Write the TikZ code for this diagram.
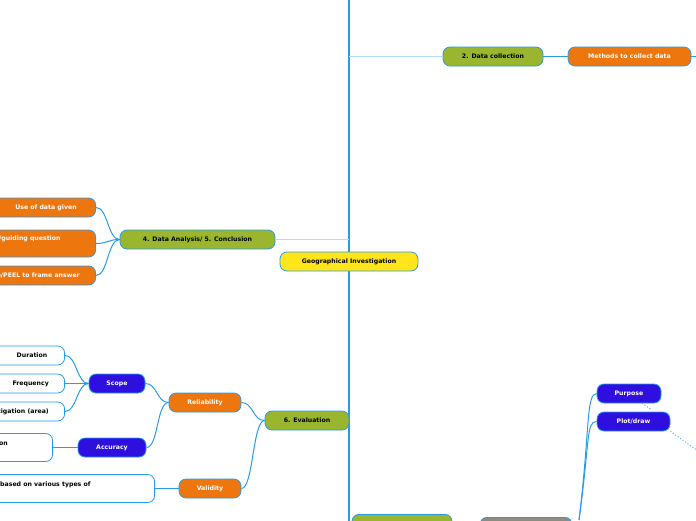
\documentclass[tikz,border=0pt]{standalone}
\usepackage{fontspec}
\setmainfont{DejaVu Sans}
\begin{document}
\begin{tikzpicture}[x=1pt,y=-1pt,
 box/.style={draw=linec, line width=0.8pt, rounded corners=7pt, minimum height=19pt, inner sep=0pt, font=\fontsize{6.2}{7.5}\selectfont\bfseries},
 olive/.style={box, fill=olivec, text=black},
 org/.style={box, fill=orangec, text=white},
 blu/.style={box, fill=bluec, text=white},
 wht/.style={box, fill=white, text=black},
 yel/.style={box, fill=yellowc, text=black},
 lbl/.style={inner sep=0pt, font=\fontsize{6.2}{7.5}\selectfont\bfseries},
 conn/.style={draw=linec, line width=1pt},
 light/.style={draw=linec!35, line width=1pt}]
\definecolor{olivec}{HTML}{9AB52E}
\definecolor{orangec}{HTML}{EE760E}
\definecolor{bluec}{HTML}{2E0FE0}
\definecolor{yellowc}{HTML}{FFE51A}
\definecolor{linec}{HTML}{2A9BE6}
\definecolor{grayc}{HTML}{8C8C84}
\useasboundingbox (0,0) rectangle (696,520);
% trunk
\coordinate (t0) at (349,-5);
\coordinate (t1) at (349,525);
\draw[draw=linec, line width=2pt] (t0) -- (t1);
% nodes
\node[yel, minimum width=138pt] (geo) at (349,261.5) {Geographical Investigation};
\node[olive, minimum width=100pt] (dc) at (493,56.5) {2. Data collection};
\node[org, minimum width=123pt] (meth) at (629.5,56.5) {Methods to collect data};
\coordinate (mr) at (700,56.5);
\node[olive, minimum width=155pt] (da) at (197.5,239.5) {4. Data Analysis/ 5. Conclusion};
\node[org, minimum width=130pt, anchor=east] (use) at (96,207.5) {};
\node[lbl, text=white] (uset) at (46,207.5) {Use of data given};
\node[org, minimum width=130pt, minimum height=27pt, anchor=east] (gq) at (96,243.5) {};
\node[lbl, text=white, anchor=west] (gqt) at (-1,239) {/guiding question};
\node[org, minimum width=130pt, anchor=east] (eel) at (96,275.5) {};
\node[lbl, text=white, anchor=east] (eelt) at (80,275.5) {Structure/PEEL to frame answer};
\node[olive, minimum width=84pt] (ev) at (307,420.5) {6. Evaluation};
\node[org, minimum width=72pt] (rel) at (205,402.5) {Reliability};
\node[org, minimum width=62pt] (val) at (210,488.5) {Validity};
\node[blu, minimum width=56pt] (sc) at (117,383.5) {Scope};
\node[blu, minimum width=68pt] (acc) at (112,447.5) {Accuracy};
\node[wht, minimum width=80pt, anchor=east] (dur) at (65,355.5) {};
\node[lbl] (durt) at (32,355.5) {Duration};
\node[wht, minimum width=80pt, anchor=east] (fr) at (65,383.5) {};
\node[lbl, anchor=east] (frt) at (49,383.5) {Frequency};
\node[wht, minimum width=80pt, anchor=east] (ar) at (65,411.5) {};
\node[lbl, anchor=east] (art) at (49,411.5) {Location of investigation (area)};
\node[wht, minimum width=80pt, minimum height=28pt, anchor=east] (accb) at (53,447.5) {};
\node[lbl, anchor=west] (acct) at (-1,443.5) {on};
\node[wht, minimum width=200pt, minimum height=28pt, anchor=east] (valb) at (155,488.5) {};
\node[lbl, anchor=west] (valt) at (0,484.5) {based on various types of};
\node[blu, minimum width=64pt] (pur) at (629,393.5) {Purpose};
\node[blu, minimum width=73pt] (plot) at (633.5,421.5) {Plot/draw};
\node[olive, minimum width=100pt, anchor=north] (bo) at (402,514) {};
\node[box, fill=grayc, minimum width=92pt, anchor=north] (bg) at (526,517) {};
\coordinate (pe) at (652,410);
\coordinate (pl) at (698,451);
% connectors
\draw[light] (349,56.5) -- (dc.west);
\draw[conn] (dc.east) -- (meth.west);
\draw[conn] (meth.east) -- (mr);
\draw[light] (349,239.5) -- (da.east);
\foreach \c in {use,gq,eel}
  \draw[conn] (da.west) .. controls +(-12,0) and +(12,0) .. (\c.east);
\draw[conn] (ev.west) .. controls +(-12,0) and +(12,0) .. (rel.east);
\draw[conn] (ev.west) .. controls +(-12,0) and +(12,0) .. (val.east);
\draw[conn] (rel.west) .. controls +(-12,0) and +(12,0) .. (sc.east);
\draw[conn] (rel.west) .. controls +(-12,0) and +(12,0) .. (acc.east);
\foreach \c in {dur,fr,ar}
  \draw[conn] (sc.west) .. controls +(-12,0) and +(12,0) .. (\c.east);
\draw[conn] (acc.west) -- (accb.east);
\draw[conn] (val.west) -- (valb.east);
\draw[conn] (579,520) .. controls (590,430) and (586,393.5) .. (pur.west);
\draw[conn] (579,520) .. controls (590,440) and (586,421.5) .. (plot.west);
\draw[conn, dotted, draw=linec!80] (pur.south) ++(13,0) -- (pe);
\draw[conn, dotted, draw=linec!80] (plot.south east) -- (pl);
\end{tikzpicture}
\end{document}
